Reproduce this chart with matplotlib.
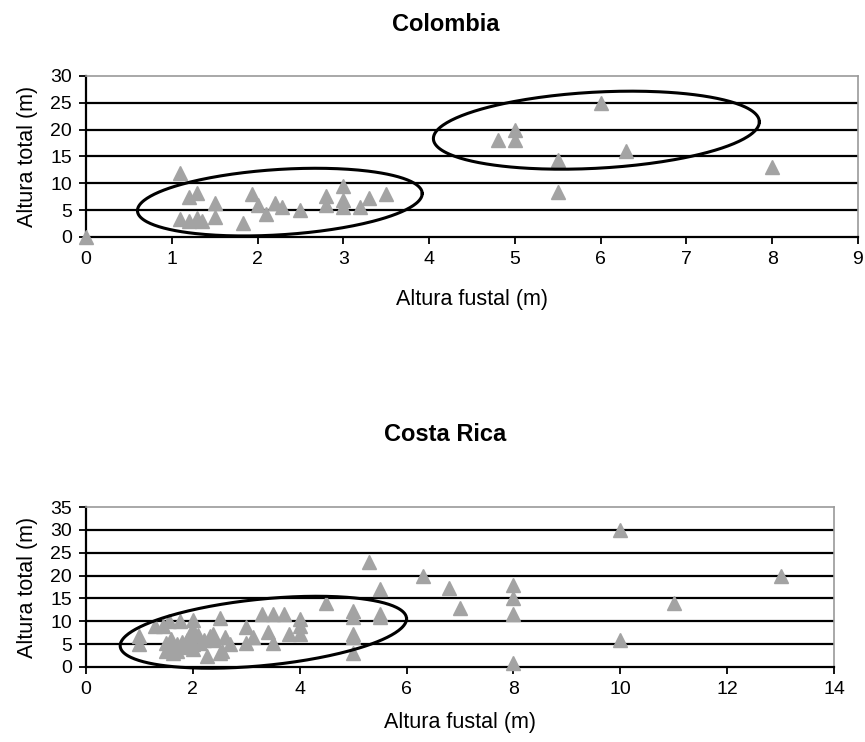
import matplotlib
matplotlib.use("Agg")
import matplotlib.pyplot as plt
import numpy as np

# =============================================================================
# Data
# =============================================================================

col_fustal = [0, 1.1, 1.2, 1.3, 1.1, 1.2, 1.3, 1.35, 1.5, 1.5, 1.83, 1.94,
              2.0, 2.1, 2.2, 2.28, 2.5, 2.8, 2.8, 3.0, 3.0, 3.0, 3.2, 3.3, 3.5,
              4.8, 5.0, 5.0, 5.5, 5.5, 6.0, 6.3, 8.0]
col_total = [0, 12, 7.4, 8.2, 3.3, 3.0, 3.5, 3.0, 3.8, 6.4, 2.7, 8.0,
             6.0, 4.3, 6.4, 5.6, 5.0, 7.6, 6.0, 9.5, 6.8, 5.6, 5.6, 7.2, 8.0,
             18, 20, 18, 14.3, 8.4, 25, 16, 13]

cr_fustal = [1.0, 1.0, 1.3, 1.5, 1.5, 1.55, 1.6, 1.63, 1.76, 1.8, 1.85, 1.95,
             2.0, 2.0, 2.0, 2.0, 2.13, 2.26, 2.32, 2.38, 2.5, 2.5, 2.54, 2.6,
             2.7, 3.0, 3.0, 3.13, 3.3, 3.4, 3.5, 3.5, 3.7, 3.8, 4.0, 4.0, 4.0,
             4.5, 5.0, 5.0, 5.0, 5.0, 5.0, 5.3, 5.5, 5.5, 5.5, 6.3, 6.8, 7.0,
             8.0, 8.0, 8.0, 8.0, 10, 10, 11, 13,
             1.6, 1.7, 1.9, 2.1, 2.2, 1.7, 2.4, 1.45]
cr_total = [6.8, 5.0, 9.0, 5.2, 3.5, 10, 4.4, 3.0, 10, 5.4, 4.4, 7.3,
            10.2, 8.0, 5.0, 4.0, 5.2, 2.3, 6.8, 7.3, 10.8, 3.0, 3.6, 6.5,
            5.0, 8.8, 5.2, 6.5, 11.7, 7.7, 11.7, 5.2, 11.7, 7.3, 10.6, 9.0, 7.3,
            14, 12.3, 11, 7.3, 6.5, 3.0, 23, 17, 11.7, 11, 20, 17.2, 12.8,
            18, 15, 11.7, 0.8, 30, 5.8, 14, 20,
            6.2, 5.0, 6.0, 7.0, 6.0, 3.5, 6.0, 9.0]

# ellipses: centre, half width (x units), tilt (y per x), half height (y units)
col_ellipses = [(2.26, 6.5, 1.66, 0.96, 6.1), (5.95, 19.9, 1.9, 0.82, 7.1)]
cr_ellipses = [(3.32, 7.6, 2.68, 1.1, 7.3)]

plt.rcParams['font.family'] = ['Liberation Sans', 'DejaVu Sans']

grey = '#a3a3a3'


def draw_panel(ax, x, y, ellipses, xmax, xstep, ymax, xlabelpad):
    ax.plot(x, y, linestyle='none', marker='^', markersize=10,
            color=grey, markeredgecolor=grey, zorder=3, clip_on=False)
    for cx, cy, rx, k, ry in ellipses:
        t = np.linspace(0, 2 * np.pi, 300)
        ex = cx + rx * np.cos(t)
        ey = cy + k * rx * np.cos(t) + ry * np.sin(t)
        ax.plot(ex, ey, color='k', linewidth=2.2, zorder=4, clip_on=False)

    ax.set_xlim(0, xmax)
    ax.set_ylim(0, ymax)
    ax.set_xticks(np.arange(0, xmax + 0.1, xstep))
    ax.set_yticks(np.arange(0, ymax + 0.1, 5))
    for yy in np.arange(5, ymax, 5):
        ax.axhline(yy, color='k', linewidth=1.6, zorder=1)

    ax.spines['top'].set_color('#9a9a9a')
    ax.spines['right'].set_color('#9a9a9a')
    ax.spines['top'].set_linewidth(1.2)
    ax.spines['right'].set_linewidth(1.2)
    ax.spines['left'].set_linewidth(1.6)
    ax.spines['bottom'].set_linewidth(1.6)
    ax.tick_params(axis='both', direction='out', length=5, width=1.3,
                   labelsize=14, pad=5)
    ax.set_xlabel('Altura fustal (m)', fontsize=15.5, labelpad=xlabelpad)
    ax.set_ylabel('Altura total (m)', fontsize=15.5, labelpad=9)


fig = plt.figure(figsize=(8.65, 7.42), dpi=100)
fig.set_facecolor('w')

ax1 = fig.add_axes([0.0994, 0.6806, 0.8925, 0.217])
draw_panel(ax1, col_fustal, col_total, col_ellipses, 9, 1, 30, 15)
fig.text(0.515, 0.967, 'Colombia', ha='center', va='center',
         fontsize=17, fontweight='bold')

ax2 = fig.add_axes([0.0994, 0.1011, 0.8647, 0.2156])
draw_panel(ax2, cr_fustal, cr_total, cr_ellipses, 14, 2, 35, 10)
fig.text(0.515, 0.415, 'Costa Rica', ha='center', va='center',
         fontsize=17, fontweight='bold')

plt.savefig('out.png', dpi=100)
